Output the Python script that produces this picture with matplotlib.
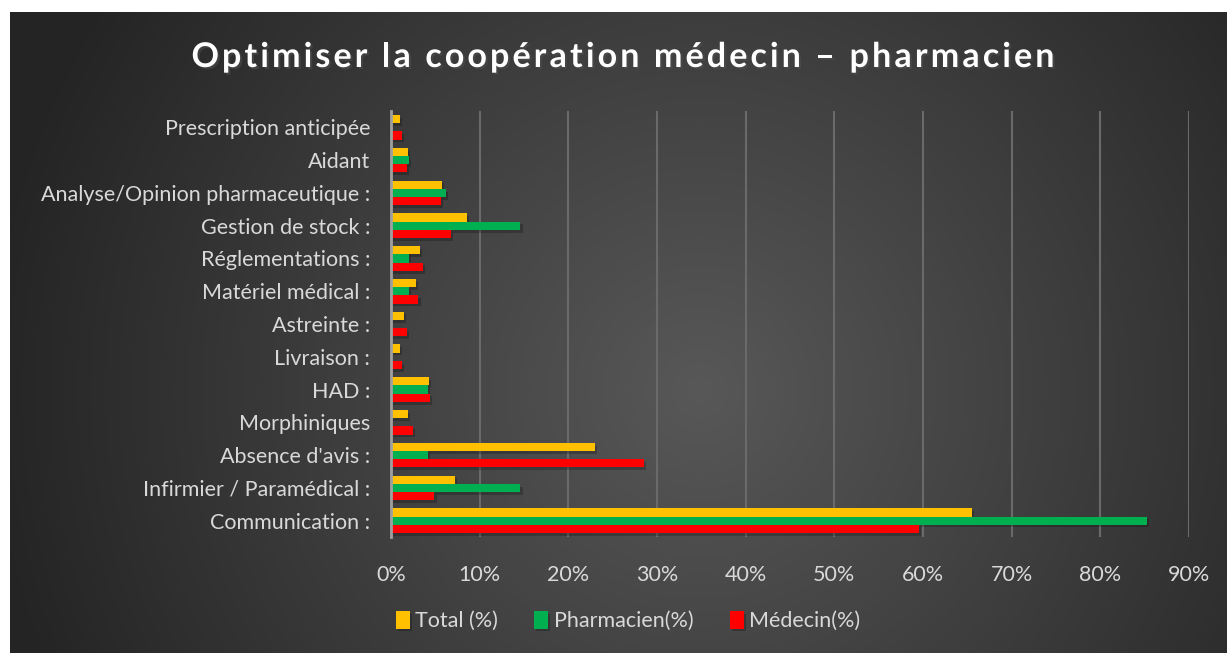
import numpy as np
import matplotlib
matplotlib.use("Agg")
import matplotlib.pyplot as plt
import matplotlib.patheffects as pe
from matplotlib.ticker import PercentFormatter

# Données (de bas en haut, valeurs en %)
categories = [
    "Communication :",
    "Infirmier / Paramédical :",
    "Absence d'avis :",
    "Morphiniques",
    "HAD :",
    "Livraison :",
    "Astreinte :",
    "Matériel médical :",
    "Réglementations :",
    "Gestion de stock :",
    "Analyse/Opinion pharmaceutique :",
    "Aidant",
    "Prescription anticipée",
]
total = [65.5, 7.2, 23.0, 1.9, 4.3, 1.0, 1.5, 2.8, 3.3, 8.6, 5.7, 1.9, 1.0]
pharmacien = [85.3, 14.6, 4.2, 0.0, 4.2, 0.0, 0.0, 2.0, 2.0, 14.6, 6.2, 2.0, 0.0]
medecin = [59.5, 4.9, 28.5, 2.5, 4.4, 1.2, 1.8, 3.1, 3.6, 6.8, 5.6, 1.8, 1.2]

series = [
    ("Total (%)", total, "#FFC000"),
    ("Pharmacien(%)", pharmacien, "#00B050"),
    ("Médecin(%)", medecin, "#FF0000"),
]

W, H = 1227, 653
fig = plt.figure(figsize=(W / 100, H / 100), dpi=100, facecolor="white")
plt.rcParams['font.family'] = ['Lato', 'DejaVu Sans']
txt_col = "#D9D9D9"
fs = 15.5

# fond sombre avec dégradé radial
x0, y0 = 10, 12
ax_bg = fig.add_axes([x0 / W, 0, 1 - x0 / W, 1 - y0 / H])
gx, gy = np.meshgrid(np.arange(x0, W), np.arange(y0, H))
r = np.hypot(gx - 700, gy - 390) / 720.0
r = np.clip(r, 0, 1)
c_in, c_out = 0x58 / 255, 0x24 / 255
img = c_in + (c_out - c_in) * r
ax_bg.imshow(np.dstack([img, img, img]), aspect="auto", interpolation="bilinear")
ax_bg.set_axis_off()

# graphique
ax = fig.add_axes([391 / W, 1 - 537 / H, (1189 - 391) / W, (537 - 111) / H])
ax.set_facecolor("none")

y = np.arange(len(categories))
h = 0.25
offsets = [h, 0.0, -h]
shadow = [pe.SimplePatchShadow(offset=(1.5, -2), shadow_rgbFace="black", alpha=0.22), pe.Normal()]
for (label, vals, col), off in zip(series, offsets):
    bars = ax.barh(y + off, vals, height=h, color=col, label=label, zorder=3)
    for b in bars:
        b.set_path_effects(shadow)

ax.set_xlim(0, 90)
ax.set_ylim(-0.5, len(categories) - 0.5)
ax.set_xticks(np.arange(0, 91, 10))
ax.xaxis.set_major_formatter(PercentFormatter(decimals=0))
ax.set_yticks(y)
ax.set_yticklabels(categories)
ax.tick_params(axis="x", length=0, pad=20, labelsize=fs, labelcolor=txt_col)
ax.tick_params(axis="y", length=0, pad=15, labelsize=fs, labelcolor=txt_col)
ax.grid(axis="x", color="#6A6A6A", linewidth=1.5, zorder=0)
ax.set_axisbelow(True)
for s in ["top", "right", "bottom"]:
    ax.spines[s].set_visible(False)
ax.spines["left"].set_color("#A0A0A0")
ax.spines["left"].set_linewidth(2)
ax.spines["left"].set_zorder(4)

# légende
fig.legend(loc="center", bbox_to_anchor=(628 / W, 1 - 621 / H), ncol=3, frameon=False,
           handlelength=0.65, handleheight=0.9, handletextpad=0.25, columnspacing=1.7,
           fontsize=fs, labelcolor=txt_col)

# titre avec espacement des lettres
title = "Optimiser la coopération médecin – pharmacien"
renderer = fig.canvas.get_renderer()
tkw = dict(fontsize=24.5, fontweight="bold", color="white")
widths = []
for ch in title:
    t = fig.text(0, 0, "x" + ch + "x", **tkw)
    w_all = t.get_window_extent(renderer).width
    t.set_text("xx")
    w_xx = t.get_window_extent(renderer).width
    t.remove()
    widths.append(w_all - w_xx)
target_w = 1055 - 192
spacing = (target_w - sum(widths)) / (len(title) - 1)
xpos = 623 - target_w / 2
for ch, w in zip(title, widths):
    fig.text(xpos / W, 1 - 57 / H, ch, ha="left", va="center",
             path_effects=[pe.withSimplePatchShadow(offset=(1.5, -1.5), alpha=0.6)], **tkw)
    xpos += w + spacing

fig.savefig("out.png", dpi=100, facecolor=fig.get_facecolor())
